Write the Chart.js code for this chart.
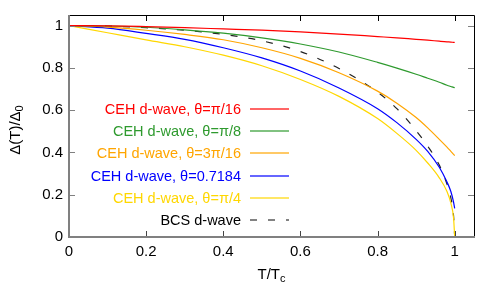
<!DOCTYPE html>
<html>
<head>
<meta charset="utf-8">
<script src="https://cdn.jsdelivr.net/npm/chart.js@4"></script>
<style>
  html, body { margin:0; padding:0; background:#fff; }
  canvas { display:block; }
</style>
</head>
<body>
<canvas id="gap" width="500" height="300"></canvas>
<script>
// T/Tc sample points shared by every curve
const tValues = [0, 0.1, 0.2, 0.3, 0.4, 0.5, 0.6, 0.7, 0.8, 0.85, 0.9, 0.93, 0.96, 0.98, 0.99, 0.997, 1];

// Δ(T)/Δ0
const cehPi16  = [1, 0.999, 0.995, 0.99, 0.984, 0.978, 0.97, 0.96, 0.948, 0.942, 0.935, 0.931, 0.926, 0.923, 0.922, 0.9205, 0.92];
const cehPi8   = [1, 0.998, 0.992, 0.98, 0.964, 0.942, 0.913, 0.875, 0.826, 0.799, 0.77, 0.751, 0.732, 0.718, 0.712, 0.708, 0.706];
const ceh3Pi16 = [1, 0.993, 0.978, 0.958, 0.933, 0.895, 0.845, 0.777, 0.69, 0.633, 0.565, 0.516, 0.462, 0.425, 0.405, 0.391, 0.385];
const ceh07184 = [1, 0.988, 0.963, 0.935, 0.895, 0.847, 0.785, 0.705, 0.607, 0.541, 0.462, 0.405, 0.33, 0.26, 0.215, 0.165, 0.135];
const cehPi4   = [1, 0.966, 0.932, 0.9, 0.86, 0.81, 0.745, 0.665, 0.56, 0.49, 0.41, 0.35, 0.28, 0.215, 0.16, 0.09, 0];
const bcsD     = [1, 0.998, 0.99, 0.978, 0.958, 0.928, 0.877, 0.797, 0.685, 0.607, 0.503, 0.43, 0.34, 0.25, 0.185, 0.1, 0];

const seriesLabels = [
  'CEH d-wave, θ=π/16',
  'CEH d-wave, θ=π/8',
  'CEH d-wave, θ=3π/16',
  'CEH d-wave, θ=0.7184',
  'CEH d-wave, θ=π/4',
  'BCS d-wave'
];
const seriesValues = [cehPi16, cehPi8, ceh3Pi16, ceh07184, cehPi4, bcsD];
const seriesColors = ['#ff0000', '#2e9a2e', '#ffa500', '#0000ff', '#ffd700', '#222222'];

const xTicks = [0, 0.2, 0.4, 0.6, 0.8, 1];
const yTicks = [0, 0.2, 0.4, 0.6, 0.8, 1];

const FONT = '"Liberation Sans", Arial, Helvetica, sans-serif';
Chart.defaults.font.family = FONT;
Chart.defaults.font.size = 15;
Chart.defaults.color = '#000';

const datasets = seriesValues.map((vals, i) => ({
  label: seriesLabels[i],
  data: tValues.map((t, k) => ({ x: t, y: vals[k] })),
  borderColor: seriesColors[i],
  borderWidth: 1.2,
  borderDash: i === 5 ? [7, 11] : [],
  pointRadius: 0,
  cubicInterpolationMode: 'monotone',
  fill: false
}));

// gnuplot-like frame: grey left/bottom axes, black top/right, inward ticks, titles
const frame = {
  id: 'frame',
  afterDraw(chart){
    const { ctx, chartArea:a, scales:{ x, y } } = chart;
    ctx.save();
    ctx.lineWidth = 1;
    ctx.strokeStyle = '#000';
    ctx.beginPath();
    ctx.moveTo(a.left, a.top + 0.5); ctx.lineTo(a.right + 0.5, a.top + 0.5); ctx.lineTo(a.right + 0.5, a.bottom);
    ctx.stroke();
    // x ticks
    xTicks.forEach(v => {
      const px = Math.round(x.getPixelForValue(v)) + 0.5;
      ctx.strokeStyle = '#000';
      ctx.beginPath(); ctx.moveTo(px, a.top); ctx.lineTo(px, a.top + 6); ctx.stroke();
      ctx.strokeStyle = '#444';
      ctx.beginPath(); ctx.moveTo(px, a.bottom); ctx.lineTo(px, a.bottom - 6); ctx.stroke();
    });
    // y ticks
    ctx.strokeStyle = '#808080';
    yTicks.forEach(v => {
      const py = Math.round(y.getPixelForValue(v)) + 0.5;
      ctx.beginPath(); ctx.moveTo(a.left, py); ctx.lineTo(a.left + 6, py); ctx.stroke();
      ctx.beginPath(); ctx.moveTo(a.right, py); ctx.lineTo(a.right - 6, py); ctx.stroke();
    });
    ctx.lineWidth = 2;
    ctx.beginPath();
    ctx.moveTo(a.left, a.top); ctx.lineTo(a.left, a.bottom); ctx.lineTo(a.right + 1, a.bottom);
    ctx.stroke();

    // axis titles with subscripts
    ctx.fillStyle = '#000';
    ctx.textBaseline = 'alphabetic';
    ctx.textAlign = 'left';
    const big = '15px ' + FONT, small = '11px ' + FONT;
    ctx.font = big; const wx = ctx.measureText('T/T').width;
    ctx.font = small; const wc = ctx.measureText('c').width;
    let sx = (a.left + a.right) / 2 - (wx + wc) / 2;
    ctx.font = big; ctx.fillText('T/T', sx, 279);
    ctx.font = small; ctx.fillText('c', sx + wx, 282);

    ctx.font = big; const wy = ctx.measureText('Δ(T)/Δ').width;
    ctx.font = small; const w0 = ctx.measureText('0').width;
    ctx.translate(20, (a.top + a.bottom) / 2 + 4);
    ctx.rotate(-Math.PI / 2);
    sx = -(wy + w0) / 2;
    ctx.font = big; ctx.fillText('Δ(T)/Δ', sx, 0);
    ctx.font = small; ctx.fillText('0', sx + wy, 3);
    ctx.restore();
  }
};

// key inside the plot: right-aligned text, line sample to the right
const key = {
  id: 'key',
  afterDatasetsDraw(chart){
    const { ctx, chartArea:a } = chart;
    ctx.save();
    ctx.font = '14.5px ' + FONT;
    ctx.textAlign = 'right';
    ctx.textBaseline = 'middle';
    const n = seriesLabels.length;
    seriesLabels.forEach((lab, i) => {
      const yy = a.bottom - 17 - (n - 1 - i) * 22.2;
      ctx.fillStyle = i === 5 ? '#000' : seriesColors[i];
      ctx.fillText(lab, a.left + 172, yy + 1);
      ctx.strokeStyle = seriesColors[i];
      ctx.globalAlpha = i === 5 ? 0.75 : 0.8;
      ctx.lineWidth = 1.6;
      ctx.setLineDash(i === 5 ? [7, 11] : []);
      ctx.beginPath();
      ctx.moveTo(a.left + 181, Math.round(yy));
      ctx.lineTo(a.left + 220, Math.round(yy));
      ctx.stroke();
      ctx.globalAlpha = 1;
    });
    ctx.restore();
  }
};

new Chart(document.getElementById('gap').getContext('2d'), {
  type: 'line',
  data: { datasets },
  options: {
    responsive: false,
    animation: false,
    layout: { padding: { top: 15, right: 26, left: 0, bottom: 0 } },
    plugins: { legend: { display: false }, tooltip: { enabled: false } },
    scales: {
      x: {
        type: 'linear', min: 0, max: 1.05,
        afterBuildTicks: s => { s.ticks = xTicks.map(v => ({ value: v })); },
        afterFit: s => { s.height = 63; },
        grid: { display: false, drawTicks: false }, border: { display: false },
        ticks: { padding: 6, maxRotation: 0, callback: v => String(+v.toFixed(2)) }
      },
      y: {
        type: 'linear', min: 0, max: 1.05,
        afterBuildTicks: s => { s.ticks = yTicks.map(v => ({ value: v })); },
        afterFit: s => { s.width = 69; },
        grid: { display: false, drawTicks: false }, border: { display: false },
        ticks: { padding: 6, callback: v => String(+v.toFixed(2)) }
      }
    }
  },
  plugins: [frame, key]
});
</script>
</body>
</html>
